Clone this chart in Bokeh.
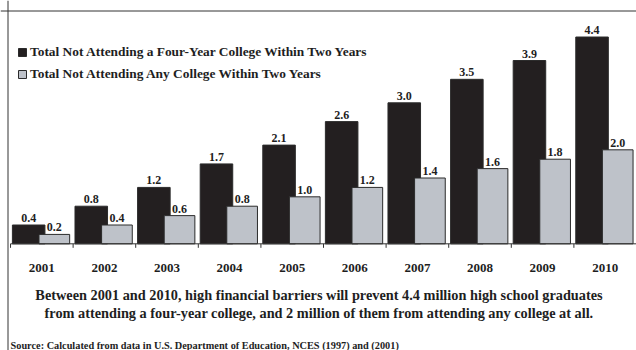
import math
from bokeh.plotting import figure
from bokeh.models import (ColumnDataSource, Range1d, Legend, LegendItem, Label, Span)
from bokeh.transform import dodge
from bokeh.core.properties import value
from bokeh.embed import file_html
from bokeh.resources import INLINE

years = ["2001", "2002", "2003", "2004", "2005", "2006", "2007", "2008", "2009", "2010"]
four_year = [0.4, 0.8, 1.2, 1.7, 2.1, 2.6, 3.0, 3.5, 3.9, 4.4]
any_college = [0.2, 0.4, 0.6, 0.8, 1.0, 1.2, 1.4, 1.6, 1.8, 2.0]
series_names = ["Total Not Attending a Four-Year College Within Two Years",
                "Total Not Attending Any College Within Two Years"]
caption_lines = ["Between 2001 and 2010, high financial barriers will prevent 4.4 million high school graduates",
                 "from attending a four-year college, and 2 million of them from attending any college at all."]
source_note = "Source: Calculated from data in U.S. Department of Education, NCES  (1997) and (2001)"

FONT = "Liberation Serif"
BLACK = "#231f20"
GRAY = "#bec2c9"
EDGE = "#2b2b2b"
TXT = "#1e1e1e"

W, H = 636, 350
n = len(years)
centers = [i + 0.5 for i in range(n)]
bounds = list(range(n + 1))
src = ColumnDataSource(dict(
    x=centers, year=years, zero=[0] * n, four=four_year, anyc=any_college,
    four_lbl=[f"{v:.1f}" for v in four_year],
    any_lbl=[f"{v:.1f}" for v in any_college],
))

p = figure(width=W, height=H, output_backend="svg", toolbar_location=None,
           x_range=Range1d(-0.16, 10.0), y_range=Range1d(-2.27, 5.177),
           min_border=0)
p.outline_line_color = None
p.background_fill_color = "white"
p.border_fill_color = "white"
p.grid.visible = False
p.axis.visible = False

r1 = p.vbar(x=dodge("x", -0.21, range=p.x_range), top="four", width=0.52, source=src,
            fill_color=BLACK, line_color=EDGE, line_width=1)
r2 = p.vbar(x=dodge("x", 0.2, range=p.x_range), top="anyc", width=0.49, source=src,
            fill_color=GRAY, line_color=EDGE, line_width=1)

lbl_kw = dict(text_align="center", text_baseline="alphabetic", y_offset=-7,
              text_font=value(FONT), text_font_style="bold", text_font_size="12px",
              text_color=TXT)
p.text(x=dodge("x", -0.21, range=p.x_range), y="four", text="four_lbl", source=src, **lbl_kw)
p.text(x=dodge("x", 0.2, range=p.x_range), y="anyc", text="any_lbl", source=src, **lbl_kw)

# category axis: baseline, boundary ticks and year labels
p.segment(x0=bounds[0], y0=0, x1=bounds[-1], y1=0, line_color="#333333", line_width=1)
p.ray(x=bounds, y=[0] * len(bounds), length=4, length_units="screen",
      angle=-math.pi / 2, line_color="#333333", line_width=1)
p.text(x="x", y="zero", text="year", source=src, text_align="center",
       text_baseline="alphabetic", y_offset=24, text_font=value(FONT),
       text_font_style="bold", text_font_size="13px", text_color=TXT)

legend = Legend(items=[LegendItem(label=series_names[0], renderers=[r1]),
                       LegendItem(label=series_names[1], renderers=[r2])],
                location=(17, 268), orientation="vertical",
                glyph_width=10, glyph_height=10, label_height=16, spacing=6,
                label_standoff=3, padding=0, margin=0,
                label_text_font=FONT, label_text_font_style="bold",
                label_text_font_size="13.4px", label_text_color=TXT,
                border_line_color=None, background_fill_alpha=0)
p.add_layout(legend)

for i, line in enumerate(caption_lines):
    p.add_layout(Label(x=318.5, y=56 - i * 18, x_units="screen", y_units="screen",
                       text=line, text_align="center", text_baseline="alphabetic",
                       text_font=FONT, text_font_style="bold", text_font_size="14.3px",
                       text_color=TXT))
p.add_layout(Label(x=10, y=5, x_units="screen", y_units="screen",
                   text=source_note, text_align="left", text_baseline="alphabetic",
                   text_font=FONT, text_font_style="bold", text_font_size="10.3px",
                   text_color=TXT))

p.add_layout(Span(location=H - 10.5, dimension="width", location_units="screen",
                  line_color="#333333", line_width=1))
p.add_layout(Span(location=7.5, dimension="height", location_units="screen",
                  line_color="#333333", line_width=1))

open("out.html", "w").write(file_html(p, INLINE))
